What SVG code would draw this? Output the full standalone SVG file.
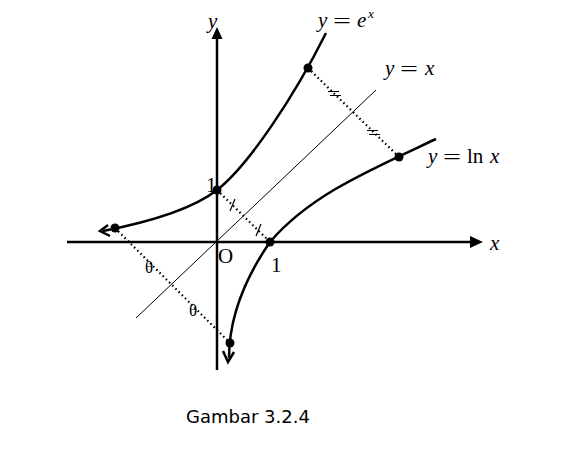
<svg xmlns="http://www.w3.org/2000/svg" width="565" height="450" viewBox="0 0 565 450">
<style>
.axis{stroke:#000;stroke-width:2.5;fill:none}
.curve{stroke:#000;stroke-width:2.5;fill:none}
.thin{stroke:#000;stroke-width:1;fill:none}
.dot{stroke:#000;stroke-width:2.2;fill:none;stroke-dasharray:1.5 3}
.mark{stroke:#000;stroke-width:1.2;fill:none}
.t{font-family:"Liberation Serif",serif;font-size:21px;fill:#000}
.ti{font-family:"Liberation Serif",serif;font-size:21px;font-style:italic;fill:#000}
.cap{font-family:"DejaVu Sans",sans-serif;font-size:18px;fill:#000}
</style>
<rect width="565" height="450" fill="#fff"/>
<g id="axes">
<line class="axis" x1="217" y1="370" x2="217" y2="36"/>
<polygon points="217,27 211.5,39 222.5,39" fill="#000"/>
<line class="axis" x1="67" y1="242" x2="472" y2="242"/>
<polygon points="483,242 470,236 470,248" fill="#000"/>
<text class="ti" x="208" y="28">y</text>
<text class="ti" x="490" y="250">x</text>
<text class="t" x="218" y="263">O</text>
<text class="t" x="271" y="272">1</text>
<text class="t" x="206" y="192">1</text>
</g>
<g id="line-y-x">
<line class="thin" x1="136" y1="318" x2="376" y2="90"/>
<text class="ti" x="385" y="75">y</text>
<text class="t" x="400" y="76" textLength="18" lengthAdjust="spacingAndGlyphs">=</text>
<text class="ti" x="425" y="75">x</text>
</g>
<g id="curve-exp">
<path class="curve" d="M103,231 Q185,215 217,190 C249,165 295,95 326,33"/>
<path class="curve" d="M108,225 L100,231 L110,236"/>
<circle cx="115" cy="228" r="4.5"/>
<circle cx="217" cy="190" r="4.5"/>
<circle cx="308" cy="68" r="4.5"/>
<text class="ti" x="318" y="27">y</text>
<text class="t" x="333" y="28" textLength="18" lengthAdjust="spacingAndGlyphs">=</text>
<text class="ti" x="357" y="27">e</text>
<text class="ti" x="368" y="18" style="font-size:13px">x</text>
</g>
<g id="curve-ln">
<path class="curve" d="M229,358 C229,330 237,290 270,242 C310,195 370,170 436,139"/>
<path class="curve" d="M223,351 L228,362 L234,352"/>
<circle cx="230" cy="343" r="4.5"/>
<circle cx="270" cy="242" r="4.5"/>
<circle cx="399" cy="157" r="4.5"/>
<text class="ti" x="428" y="163">y</text>
<text class="t" x="443" y="164" textLength="18" lengthAdjust="spacingAndGlyphs">=</text>
<text class="t" x="467" y="163">ln</text>
<text class="ti" x="490" y="163">x</text>
</g>
<g id="connectors">
<line class="dot" x1="308" y1="68" x2="399" y2="157"/>
<line class="dot" x1="217" y1="190" x2="270" y2="242"/>
<line class="dot" x1="115" y1="228" x2="230" y2="343"/>
<path class="mark" d="M328,91.5 L339,91.5 M330,95.5 L341,95.5 M367,130.5 L378,130.5 M369,134.5 L380,134.5"/>
<path class="mark" d="M230,211 L235,199 M256,236 L261,224"/>
<text class="t" x="145" y="273" style="font-size:17px">θ</text>
<text class="t" x="189" y="316" style="font-size:17px">θ</text>
</g>
<text class="cap" x="186" y="423">Gambar 3.2.4</text>
</svg>
